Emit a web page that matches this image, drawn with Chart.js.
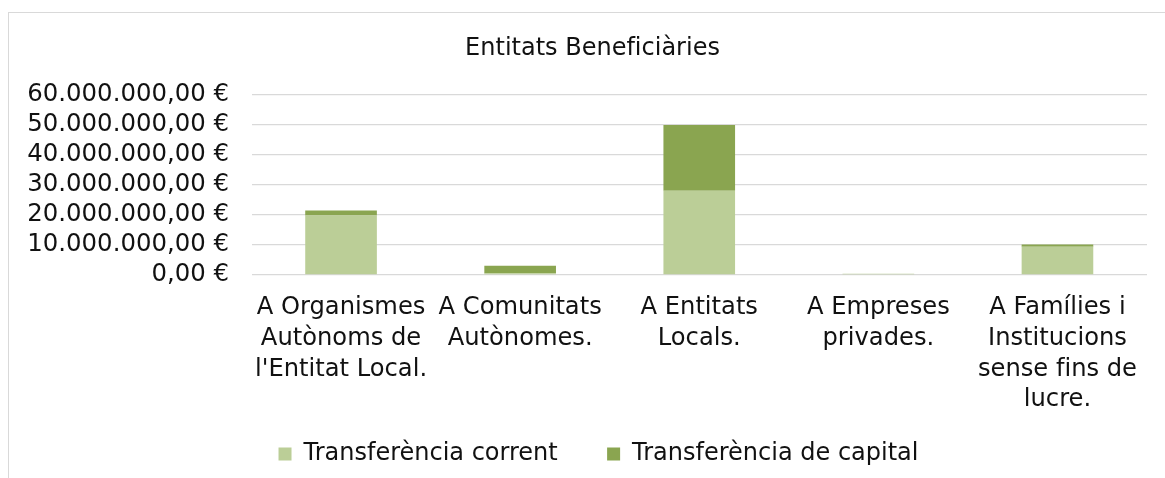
<!DOCTYPE html>
<html lang="ca">
<head>
<meta charset="utf-8">
<title>Entitats Beneficiàries</title>
<script src="https://cdn.jsdelivr.net/npm/chart.js@4.4.1/dist/chart.umd.min.js"></script>
<style>
    html, body {
        margin: 0;
        padding: 0;
        background: #ffffff;
        overflow: hidden;
    }
    .chart-frame {
        position: absolute;
        left: 8px;
        top: 12px;
        width: 1300px;
        height: 600px;
        border: 1.5px solid #d9d9d9;
    }
    #chartWrap {
        position: absolute;
        left: 0;
        top: 0;
        width: 1165px;
        height: 478px;
    }
</style>
</head>
<body>
<div class="chart-frame"></div>
<div id="chartWrap">
    <canvas id="beneficiariesChart" width="1165" height="478"></canvas>
</div>
<script>
// Dades del gràfic
const categories = [
    ['A Organismes', 'Autònoms de', "l'Entitat Local."],
    ['A Comunitats', 'Autònomes.'],
    ['A Entitats', 'Locals.'],
    ['A Empreses', 'privades.'],
    ['A Famílies i', 'Institucions', 'sense fins de', 'lucre.']
];
const transferCorrent = [19800000, 600000, 28100000, 400000, 9400000];
const transferCapital = [1700000, 2500000, 21900000, 0, 800000];
const seriesNames = ['Transferència corrent', 'Transferència de capital'];
const yTicks = [0, 10000000, 20000000, 30000000, 40000000, 50000000, 60000000];

// Colors i tipografia
const colorCorrent = '#BBCE97';
const colorCapital = '#8AA550';
const textColor = '#111111';
const gridColor = '#d9d9d9';
const fontFamily = '"DejaVu Sans", Verdana, sans-serif';

// Format en euros: 60.000.000,00 €
function formatEuro(value) {
    const parts = Number(value).toFixed(2).split('.');
    const intPart = parts[0].replace(/\B(?=(\d{3})+(?!\d))/g, '.');
    return intPart + ',' + parts[1] + ' €';
}

// Etiquetes de la llegenda amb una mica més d'espai entre elements
function legendLabels(chart) {
    const items = Chart.defaults.plugins.legend.labels.generateLabels(chart);
    items.forEach((item, i) => {
        if (i < items.length - 1) item.text += '\u00a0\u00a0\u00a0';
    });
    return items;
}

// Desplaça el títol i la llegenda cap a la dreta (el marc original és més ample)
const shiftBlocks = {
    id: 'shiftBlocks',
    afterLayout(chart) {
        if (chart.titleBlock) {
            chart.titleBlock.left += 9;
            chart.titleBlock.right += 9;
        }
        if (chart.legend) {
            chart.legend.left += 15;
            chart.legend.right += 15;
        }
    }
};

// Inicialitza el gràfic
function initChart() {
    const ctx = document.getElementById('beneficiariesChart');

    new Chart(ctx, {
        type: 'bar',
        data: {
            labels: categories,
            datasets: [{
                label: seriesNames[0],
                data: transferCorrent,
                backgroundColor: colorCorrent,
                borderWidth: 0
            }, {
                label: seriesNames[1],
                data: transferCapital,
                backgroundColor: colorCapital,
                borderWidth: 0
            }]
        },
        options: {
            responsive: false,
            animation: false,
            datasets: {
                bar: {
                    categoryPercentage: 1,
                    barPercentage: 0.4
                }
            },
            layout: {
                padding: { left: 20, right: 18, top: 0, bottom: 2 }
            },
            plugins: {
                title: {
                    display: true,
                    text: 'Entitats Beneficiàries',
                    color: textColor,
                    font: { family: fontFamily, size: 24, weight: 'normal' },
                    padding: { top: 34.1, bottom: 32.1 }
                },
                legend: {
                    position: 'bottom',
                    labels: {
                        color: textColor,
                        font: { family: fontFamily, size: 24 },
                        boxWidth: 13,
                        boxHeight: 13,
                        padding: 26.5,
                        generateLabels: legendLabels
                    }
                },
                tooltip: { enabled: false }
            },
            scales: {
                x: {
                    stacked: true,
                    grid: { display: false, drawTicks: false },
                    border: { display: false },
                    ticks: {
                        color: textColor,
                        font: { family: fontFamily, size: 24.2, lineHeight: 1.27 },
                        padding: 17.6,
                        maxRotation: 0,
                        autoSkip: false
                    },
                    afterFit: function(scale) {
                        scale.height = 140.5;
                    }
                },
                y: {
                    stacked: true,
                    min: yTicks[0],
                    max: yTicks[yTicks.length - 1],
                    grid: {
                        color: gridColor,
                        lineWidth: 1.3,
                        drawTicks: false
                    },
                    border: { display: false },
                    ticks: {
                        stepSize: yTicks[1] - yTicks[0],
                        autoSkip: false,
                        color: textColor,
                        font: { family: fontFamily, size: 24.4 },
                        padding: 22.5,
                        callback: value => formatEuro(value)
                    },
                    afterFit: function(scale) {
                        scale.width = 231.5;
                    }
                }
            }
        },
        plugins: [shiftBlocks]
    });
}

document.addEventListener('DOMContentLoaded', initChart);
</script>
</body>
</html>
